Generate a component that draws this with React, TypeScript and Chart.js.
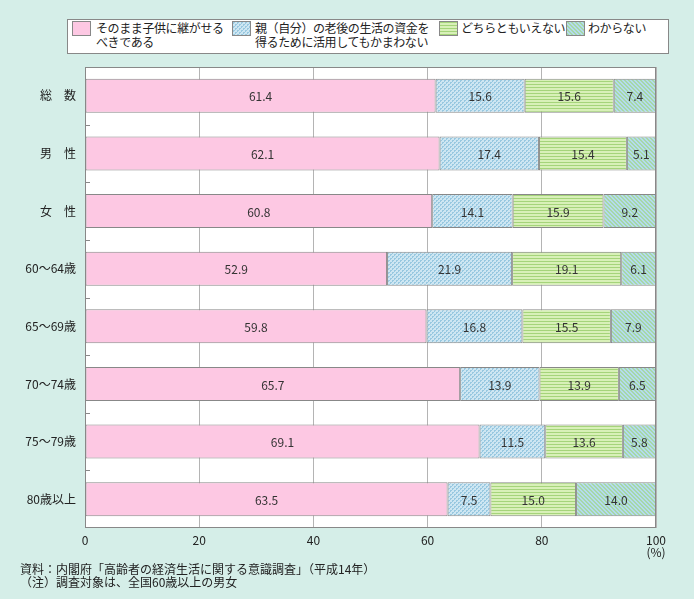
import React, { useEffect, useRef } from 'react';
import { Chart, registerables } from 'chart.js';

Chart.register(...registerables);

const categories = ['総　数', '男　性', '女　性', '60～64歳', '65～69歳', '70～74歳', '75～79歳', '80歳以上'];
const seriesLabels = [
  ['そのまま子供に継がせる', 'べきである'],
  ['親（自分）の老後の生活の資金を', '得るために活用してもかまわない'],
  ['どちらともいえない'],
  ['わからない'],
];
const inheritValues = [61.4, 62.1, 60.8, 52.9, 59.8, 65.7, 69.1, 63.5];
const ownUseValues = [15.6, 17.4, 14.1, 21.9, 16.8, 13.9, 11.5, 7.5];
const neitherValues = [15.6, 15.4, 15.9, 19.1, 15.5, 13.9, 13.6, 15.0];
const unknownValues = [7.4, 5.1, 9.2, 6.1, 7.9, 6.5, 5.8, 14.0];
const xMin = 0;
const xMax = 100;
const xStep = 20;
const unitLabel = '(%)';
const sourceNote = '資料：内閣府「高齢者の経済生活に関する意識調査」（平成14年）';
const remarkNote = '（注）調査対象は、全国60歳以上の男女';

const FONT = '"Noto Sans CJK JP", "Noto Sans", sans-serif';
const PAGE_BG = '#d5eee8';
const TEXT = '#222';
const EDGE = '#888';

function makeTile(kind: number): HTMLCanvasElement {
  const c = document.createElement('canvas');
  const ctx = c.getContext('2d')!;
  if (kind === 0) {
    c.width = 2; c.height = 2;
    ctx.fillStyle = '#fdc8e3';
    ctx.fillRect(0, 0, 2, 2);
  } else if (kind === 1) {
    c.width = 4; c.height = 4;
    ctx.fillStyle = '#cde6f2';
    ctx.fillRect(0, 0, 4, 4);
    ctx.fillStyle = '#98c8e0';
    [[0, 0], [1, 0], [0, 1], [2, 2], [3, 2], [2, 3]].forEach(([x, y]) => ctx.fillRect(x, y, 1, 1));
  } else if (kind === 2) {
    c.width = 3; c.height = 3;
    ctx.fillStyle = '#d8f0b8';
    ctx.fillRect(0, 0, 3, 3);
    ctx.fillStyle = '#a5d47a';
    ctx.fillRect(0, 0, 3, 1);
  } else {
    c.width = 4; c.height = 4;
    for (let x = 0; x < 4; x++) {
      for (let y = 0; y < 4; y++) {
        const m = (x - y + 8) % 4;
        ctx.fillStyle = m < 2 ? '#a6d8a8' : '#b4dbee';
        ctx.fillRect(x, y, 1, 1);
      }
    }
  }
  return c;
}

const legendPos = [
  { swatch: 72, text: 96 },
  { swatch: 232, text: 255 },
  { swatch: 439, text: 461 },
  { swatch: 566, text: 588 },
];

export default function App() {
  const canvasRef = useRef<HTMLCanvasElement | null>(null);
  const swatchRefs = useRef<(HTMLDivElement | null)[]>([]);

  useEffect(() => {
    document.body.style.margin = '0';
    document.body.style.background = PAGE_BG;
    const canvas = canvasRef.current!;
    const ctx = canvas.getContext('2d')!;
    const tiles = [0, 1, 2, 3].map(makeTile);
    const patterns = tiles.map((t) => ctx.createPattern(t, 'repeat')!);
    tiles.forEach((t, i) => {
      const el = swatchRefs.current[i];
      if (el) el.style.backgroundImage = `url(${t.toDataURL()})`;
    });

    const values = [inheritValues, ownUseValues, neitherValues, unknownValues];

    const decor = {
      id: 'decor',
      beforeDraw(chart: any) {
        const { ctx: c, chartArea: a } = chart;
        c.save();
        c.fillStyle = PAGE_BG;
        c.fillRect(0, 0, chart.width, chart.height);
        c.fillStyle = '#fff';
        c.fillRect(a.left, a.top, a.right - a.left, a.bottom - a.top);
        c.restore();
      },
      afterDatasetsDraw(chart: any) {
        const { ctx: c, chartArea: a } = chart;
        const y = chart.scales.y;
        c.save();
        c.font = `12px ${FONT}`;
        c.fillStyle = '#333';
        c.textAlign = 'center';
        c.textBaseline = 'middle';
        chart.data.datasets.forEach((ds: any, di: number) => {
          const meta = chart.getDatasetMeta(di);
          meta.data.forEach((bar: any, i: number) => {
            const v = ds.data[i];
            c.fillText(v.toFixed(1), (bar.x + bar.base) / 2, bar.y + 1);
          });
        });
        c.strokeStyle = EDGE;
        c.lineWidth = 1;
        c.strokeRect(Math.round(a.left) + 0.5, Math.round(a.top) + 0.5, Math.round(a.right - a.left) - 1, Math.round(a.bottom - a.top) - 1);
        c.beginPath();
        for (let i = 0; i < categories.length - 1; i++) {
          const py = Math.round((y.getPixelForValue(i) + y.getPixelForValue(i + 1)) / 2) + 0.5;
          c.moveTo(a.left, py);
          c.lineTo(a.left + 5, py);
        }
        c.stroke();
        c.restore();
      },
    };

    const chart = new Chart(canvas, {
      type: 'bar',
      data: {
        labels: categories,
        datasets: values.map((d, i) => ({
          label: seriesLabels[i].join(''),
          data: d,
          backgroundColor: patterns[i],
          borderColor: EDGE,
          borderWidth: 1,
          borderSkipped: false,
          barPercentage: 0.59,
          categoryPercentage: 1,
        })),
      },
      options: {
        indexAxis: 'y',
        responsive: false,
        animation: false,
        layout: { padding: { top: 67, right: 38, left: 0, bottom: 0 } },
        plugins: { legend: { display: false }, tooltip: { enabled: false } },
        scales: {
          x: {
            stacked: true,
            min: xMin,
            max: xMax,
            ticks: {
              stepSize: xStep,
              color: TEXT,
              font: { family: FONT, size: 12, lineHeight: 1.0 },
              padding: 6,
              maxRotation: 0,
              callback: (v: any) => (Number(v) === xMax ? [String(v), unitLabel] : String(v)),
            },
            grid: { color: '#b4b4b4', drawTicks: false },
            border: { display: false },
            afterFit: (s: any) => { s.height = 71; },
          },
          y: {
            stacked: true,
            grid: { display: false, drawTicks: false },
            border: { display: false },
            ticks: { color: TEXT, font: { family: FONT, size: 12 }, padding: 9 },
            afterFit: (s: any) => { s.width = 85; },
          },
        },
      },
      plugins: [decor],
    });
    return () => chart.destroy();
  }, []);

  const textStyle: React.CSSProperties = {
    position: 'absolute',
    fontFamily: FONT,
    fontSize: 12,
    lineHeight: '14px',
    color: TEXT,
    whiteSpace: 'nowrap',
  };

  return (
    <div style={{ position: 'relative', width: 694, height: 599, background: PAGE_BG, overflow: 'hidden' }}>
      <canvas ref={canvasRef} width={694} height={599} style={{ position: 'absolute', left: 0, top: 0 }} />
      <div style={{ position: 'absolute', left: 67, top: 19, width: 600, height: 33, border: `1px solid ${EDGE}`, background: '#fff' }} />
      {seriesLabels.map((lines, i) => (
        <React.Fragment key={i}>
          <div
            ref={(el) => { swatchRefs.current[i] = el; }}
            style={{ position: 'absolute', left: legendPos[i].swatch, top: 21, width: 17, height: 13, border: `1px solid ${EDGE}` }}
          />
          <div style={{ ...textStyle, left: legendPos[i].text, top: 21, letterSpacing: '-0.4px' }}>
            {lines.map((l, j) => (<div key={j}>{l}</div>))}
          </div>
        </React.Fragment>
      ))}
      <div style={{ ...textStyle, left: 20, top: 562, lineHeight: '13px' }}>
        <div>{sourceNote}</div>
        <div>{remarkNote}</div>
      </div>
    </div>
  );
}
